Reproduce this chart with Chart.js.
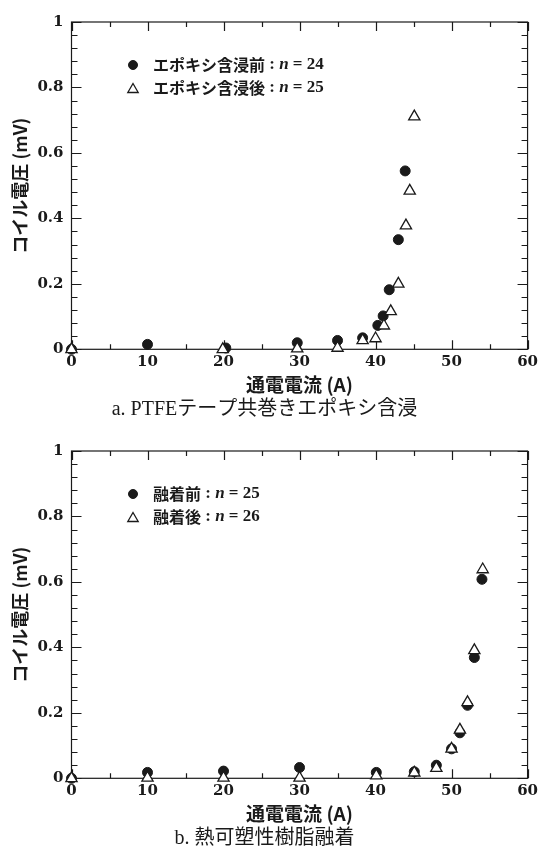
<!DOCTYPE html>
<html lang="ja">
<head>
<meta charset="utf-8">
<script src="https://cdn.jsdelivr.net/npm/chart.js@4"></script>
<style>
  html, body { margin: 0; padding: 0; background: #fff; }
  .panel { width: 542px; height: 429px; }
</style>
</head>
<body>
<div class="panel"><canvas id="chartA" width="542" height="429"></canvas></div>
<div class="panel"><canvas id="chartB" width="542" height="429"></canvas></div>
<script>
// ── データ ──

// a. PTFEテープ共巻きエポキシ含浸
const namesA = ["エポキシ含浸前", "エポキシ含浸後"];
const countsA = [24, 25];
const currentBeforeA = [0, 10, 20.3, 29.7, 35, 38.3, 40.3, 41, 41.8, 43, 43.9];
const voltageBeforeA = [0, 0.015, 0.004, 0.02, 0.027, 0.035, 0.073, 0.102, 0.182, 0.335, 0.545];
const currentAfterA = [0, 19.9, 29.7, 35, 38.3, 40, 41.1, 42, 43, 44, 44.5, 45.1];
const voltageAfterA = [0, 0, 0.002, 0.004, 0.027, 0.033, 0.072, 0.116, 0.2, 0.378, 0.484, 0.711];

// b. 熱可塑性樹脂融着
const namesB = ["融着前", "融着後"];
const countsB = [25, 26];
const currentBeforeB = [0, 10, 20, 30, 40.1, 45.1, 48, 50, 51.1, 52.1, 53, 54];
const voltageBeforeB = [0, 0.018, 0.022, 0.033, 0.018, 0.02, 0.04, 0.09, 0.139, 0.223, 0.369, 0.608];
const currentAfterB = [0, 10, 20, 30, 40.1, 45.1, 48, 50, 51.1, 52.1, 53, 54.1];
const voltageAfterB = [0, 0.001, 0.001, 0.001, 0.008, 0.017, 0.031, 0.09, 0.148, 0.232, 0.391, 0.638];

const captions = ["a. PTFEテープ共巻きエポキシ含浸", "b. 熱可塑性樹脂融着"];
const xTitle = "通電電流 (A)";
const yTitle = "コイル電圧 (mV)";

const INK = "#1a1a1a";
const TICK_FONT = { family: "'DejaVu Serif', serif", size: 15, weight: "bold" };
const JP_BOLD = "'Noto Sans CJK JP', sans-serif";

// ── ヘルパー ──

function toPoints(xs, ys) {
  return xs.map((x, i) => ({ x, y: ys[i] }));
}

// 枠と内向きの目盛り
const frameTicks = {
  id: "frameTicks",
  beforeDatasetsDraw(chart) {
    const { ctx, chartArea: a, scales } = chart;
    const xs = scales.x;
    const ys = scales.y;
    ctx.save();
    ctx.strokeStyle = INK;
    ctx.lineWidth = 1.2;
    ctx.strokeRect(a.left, a.top, a.right - a.left, a.bottom - a.top);

    ctx.beginPath();
    for (let v = xs.min; v <= xs.max + 1e-9; v += 5) {
      const px = Math.round(xs.getPixelForValue(v)) + 0.5;
      const len = v % 10 === 0 ? 9 : 5;
      ctx.moveTo(px, a.bottom);
      ctx.lineTo(px, a.bottom - len);
      ctx.moveTo(px, a.top);
      ctx.lineTo(px, a.top + len);
    }
    for (let k = 0; k <= 25; k++) {
      const v = k * 0.04;
      const py = Math.round(ys.getPixelForValue(v)) + 0.5;
      const len = k % 5 === 0 ? 10 : 6;
      ctx.moveTo(a.left, py);
      ctx.lineTo(a.left + len, py);
      ctx.moveTo(a.right, py);
      ctx.lineTo(a.right - len, py);
    }
    ctx.stroke();
    ctx.restore();
  },
};

// プロット内の凡例
const insideLegend = {
  id: "insideLegend",
  afterDatasetsDraw(chart, args, opts) {
    const ctx = chart.ctx;
    chart.data.datasets.forEach((ds, i) => {
      const y = opts.y + i * opts.gap;
      ctx.save();
      ctx.fillStyle = ds.backgroundColor;
      ctx.strokeStyle = ds.borderColor;
      ctx.lineWidth = ds.borderWidth;
      Chart.helpers.drawPoint(
        ctx,
        { pointStyle: ds.pointStyle, radius: ds.pointRadius - 0.5, borderWidth: ds.borderWidth, rotation: 0 },
        opts.x,
        y + (ds.pointStyle === "triangle" ? 1.5 : 0),
      );

      ctx.fillStyle = INK;
      ctx.textBaseline = "middle";
      let tx = opts.x + 20;
      ctx.font = `bold 16px ${JP_BOLD}`;
      ctx.fillText(ds.label, tx, y);
      tx += ctx.measureText(ds.label).width;
      ctx.font = "bold 17px 'Liberation Serif', serif";
      ctx.fillText(" : ", tx, y);
      tx += ctx.measureText(" : ").width;
      ctx.font = "italic bold 17px 'Liberation Serif', serif";
      ctx.fillText("n", tx, y);
      tx += ctx.measureText("n").width;
      ctx.font = "bold 17px 'Liberation Serif', serif";
      ctx.fillText(" = " + opts.counts[i], tx, y);
      ctx.restore();
    });
  },
};

// ── グラフ ──

function makeChart(canvasId, names, counts, before, after, caption) {
  return new Chart(document.getElementById(canvasId), {
    type: "scatter",
    data: {
      datasets: [
        {
          label: names[0],
          data: before,
          pointStyle: "circle",
          pointRadius: 5,
          backgroundColor: INK,
          borderColor: INK,
          borderWidth: 1,
          order: 1,
          clip: false,
        },
        {
          label: names[1],
          data: after,
          pointStyle: "triangle",
          pointRadius: 6.5,
          backgroundColor: "#ffffff",
          borderColor: INK,
          borderWidth: 1.3,
          order: 0,
          clip: false,
        },
      ],
    },
    options: {
      responsive: false,
      animation: false,
      layout: { padding: { top: 22, right: 13, left: 0, bottom: 7 } },
      plugins: {
        legend: { display: false },
        tooltip: { enabled: false },
        title: {
          display: true,
          text: caption,
          position: "bottom",
          color: INK,
          padding: 0,
          font: { family: "'Liberation Serif', 'Noto Sans CJK JP', serif", size: 20, weight: "normal" },
        },
        insideLegend: { x: 133, y: 65, gap: 23, counts },
      },
      scales: {
        x: {
          type: "linear",
          min: 0,
          max: 60,
          grid: { display: false, drawTicks: false },
          border: { display: false },
          ticks: { stepSize: 10, padding: 4, color: INK, font: TICK_FONT, maxRotation: 0 },
          title: {
            display: true,
            text: xTitle,
            color: INK,
            padding: { top: 0, bottom: 1.5 },
            font: { family: JP_BOLD, size: 19, weight: "bold" },
          },
          afterFit(scale) {
            scale.height = 48.7;
          },
        },
        y: {
          type: "linear",
          min: 0,
          max: 1,
          grid: { display: false, drawTicks: false },
          border: { display: false },
          ticks: {
            stepSize: 0.2,
            padding: 8,
            color: INK,
            font: TICK_FONT,
            callback: (v) => String(Number(v.toFixed(1))),
          },
          title: {
            display: true,
            text: yTitle,
            color: INK,
            padding: { top: 9, bottom: 0 },
            font: { family: JP_BOLD, size: 18, weight: "bold" },
          },
          afterFit(scale) {
            scale.width = 71.5;
          },
        },
      },
    },
    plugins: [frameTicks, insideLegend],
  });
}

makeChart("chartA", namesA, countsA,
  toPoints(currentBeforeA, voltageBeforeA), toPoints(currentAfterA, voltageAfterA), captions[0]);
makeChart("chartB", namesB, countsB,
  toPoints(currentBeforeB, voltageBeforeB), toPoints(currentAfterB, voltageAfterB), captions[1]);
</script>
</body>
</html>
